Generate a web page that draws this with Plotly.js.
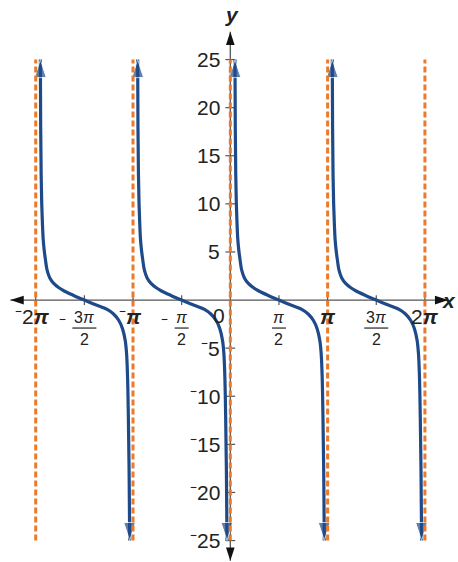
<!DOCTYPE html>
<html>
<head>
<meta charset="utf-8">
<script src="https://cdn.plot.ly/plotly-3.0.1.min.js"></script>
<style>
  html, body { margin: 0; padding: 0; background: #fff; }
  #chart { width: 458px; height: 562px; }
</style>
</head>
<body>
<div id="chart"></div>
<script>
const PI = Math.PI;

// One period of y = cot x: x offset from the period's left asymptote (multiples of π) and y
const branchOffset = [0.048, 0.051, 0.056, 0.062, 0.069, 0.077, 0.087, 0.100, 0.117, 0.145, 0.185, 0.235, 0.288, 0.39, 0.50,
                      0.61, 0.734, 0.80, 0.853, 0.893, 0.920, 0.934, 0.944, 0.952, 0.960, 0.966];
const branchY = [25, 18, 13, 10, 8, 6.3, 5.2, 4.2, 3.1, 2.3, 1.73, 1.3, 0.97, 0.48, 0,
                 -0.47, -0.97, -1.45, -2.1, -3.0, -4.2, -5.6, -8.0, -12, -18, -25];
// Left asymptote of each drawn period (multiples of π)
const branchStarts = [-2, -1, 0, 1];

// Vertical asymptotes (multiples of π) and their extent
const asymptoteX = [-2, -1, 0, 1, 2];
const asymptoteY = [-25, 25];

// Axis extents (x in multiples of π)
const axisXEnds = [-2.26, 2.24];
const axisYEnds = [-27.1, 27.9];

// Tick positions and labels
const xTickVals = [-2, -1.5, -1, -0.5, 0.5, 1, 1.5, 2];
const xWholeVals = [-2, -1, 1, 2];
const xWholeText = ['\u207B2<b><i>π</i></b>', '\u207B<b><i>π</i></b>', '<b><i>π</i></b>', '2<b><i>π</i></b>'];
const xFracVals = [-1.5, -0.5, 0.5, 1.5];
const xFracSign = ['\u207B', '\u207B', '', ''];
const xFracNum = ['3<i>π</i>', '<i>π</i>', '<i>π</i>', '3<i>π</i>'];
const xFracDen = ['2', '2', '2', '2'];
const yTickVals = [-25, -20, -15, -10, -5, 5, 10, 15, 20, 25];
const yTickText = ['\u207B25', '\u207B20', '\u207B15', '\u207B10', '\u207B5', '5', '10', '15', '20', '25'];

const BLUE = '#1e4a8a';
const ORANGE = '#ea7a2c';
const AXIS = '#555555';
const TEXT = '#222222';
const FONT = '"Liberation Sans", Arial, sans-serif';

const traces = [];

// x and y axes with arrowheads at both ends
traces.push({
  x: [axisXEnds[0] * PI, axisXEnds[1] * PI], y: [0, 0],
  mode: 'lines+markers', hoverinfo: 'skip',
  line: { color: AXIS, width: 1.3 },
  marker: { symbol: 'arrow', size: 14, color: '#111', angle: [270, 90] }
});
traces.push({
  x: [0, 0], y: [axisYEnds[0], axisYEnds[1]],
  mode: 'lines+markers', hoverinfo: 'skip',
  line: { color: AXIS, width: 1.3 },
  marker: { symbol: 'arrow', size: 14, color: '#111', angle: [180, 0] }
});

// tick marks crossing the axes
traces.push({
  x: xTickVals.map(v => v * PI), y: xTickVals.map(() => 0),
  mode: 'markers', hoverinfo: 'skip',
  marker: { symbol: 'line-ns', size: 7, line: { color: AXIS, width: 1.2 } }
});
traces.push({
  x: yTickVals.map(() => 0), y: yTickVals,
  mode: 'markers', hoverinfo: 'skip',
  marker: { symbol: 'line-ew', size: 7, line: { color: AXIS, width: 1.2 } }
});

// cotangent branches, each drawn from its zero outward so both ends carry an arrowhead
const mid = branchY.indexOf(0);
branchStarts.forEach(s => {
  const halves = [
    { off: branchOffset.slice(0, mid + 1).reverse(), y: branchY.slice(0, mid + 1).reverse() },
    { off: branchOffset.slice(mid), y: branchY.slice(mid) }
  ];
  halves.forEach(h => {
    traces.push({
      x: h.off.map(o => (s + o) * PI), y: h.y,
      mode: 'lines+markers', hoverinfo: 'skip',
      line: { color: BLUE, width: 3.2, shape: 'spline', smoothing: 1, backoff: 'auto' },
      marker: {
        symbol: 'arrow', angleref: 'previous', color: BLUE,
        size: h.y.map((_, i) => (i === h.y.length - 1 ? 19 : 0))
      }
    });
  });
});

// dashed vertical asymptotes
asymptoteX.forEach(a => {
  traces.push({
    x: [a * PI, a * PI], y: asymptoteY,
    mode: 'lines', hoverinfo: 'skip',
    line: { color: ORANGE, width: 3, dash: '6px,3px' }
  });
});

const annotations = [];
const base = { xref: 'x', yref: 'y', showarrow: false };

yTickVals.forEach((v, i) => {
  annotations.push(Object.assign({}, base, {
    x: 0, y: v, text: yTickText[i], xanchor: 'right', xshift: -8,
    font: { family: FONT, size: 21, color: TEXT }
  }));
});

xWholeVals.forEach((v, i) => {
  annotations.push(Object.assign({}, base, {
    x: v * PI, y: 0, text: xWholeText[i], yshift: -16, xshift: v < 0 ? -3 : 0,
    font: { family: FONT, size: 21, color: TEXT }
  }));
});

const shapes = [];
xFracVals.forEach((v, i) => {
  annotations.push(Object.assign({}, base, {
    x: v * PI, y: 0, text: xFracNum[i], yshift: -17,
    font: { family: FONT, size: 16, color: TEXT }
  }));
  annotations.push(Object.assign({}, base, {
    x: v * PI, y: 0, text: xFracDen[i], yshift: -39,
    font: { family: FONT, size: 16, color: TEXT }
  }));
  const half = xFracNum[i].length > 8 ? 12 : 7;
  shapes.push({
    type: 'line', xref: 'x', yref: 'y',
    xsizemode: 'pixel', ysizemode: 'pixel',
    xanchor: v * PI, yanchor: 0,
    x0: -half, x1: half, y0: -28, y1: -28,
    line: { color: TEXT, width: 1.2 }
  });
  if (xFracSign[i]) {
    annotations.push(Object.assign({}, base, {
      x: v * PI, y: 0, text: xFracSign[i], yshift: -24, xshift: -(half + 10),
      font: { family: FONT, size: 21, color: TEXT }
    }));
  }
});

// origin and axis names
annotations.push(Object.assign({}, base, {
  x: 0, y: 0, text: '0', xshift: -11, yshift: -15,
  font: { family: FONT, size: 21, color: TEXT }
}));
annotations.push({
  xref: 'paper', yref: 'paper', x: 232 / 458, y: 1 - 15 / 562,
  xanchor: 'center', yanchor: 'middle', showarrow: false,
  text: '<b><i>y</i></b>', font: { family: FONT, size: 21, color: TEXT }
});
annotations.push({
  xref: 'paper', yref: 'y', x: 1, y: 0, xanchor: 'right', yanchor: 'middle', showarrow: false,
  text: '<b><i>x</i></b>', font: { family: FONT, size: 21, color: TEXT }
});

const layout = {
  width: 458, height: 562,
  margin: { l: 0, r: 0, t: 0, b: 0 },
  paper_bgcolor: '#fff', plot_bgcolor: '#fff',
  showlegend: false,
  xaxis: { range: [-2.367 * PI, 2.340 * PI], visible: false, fixedrange: true },
  yaxis: { range: [-27.23, 31.19], visible: false, fixedrange: true },
  annotations: annotations,
  shapes: shapes
};

Plotly.newPlot('chart', traces, layout, { displayModeBar: false, staticPlot: true });
</script>
</body>
</html>
